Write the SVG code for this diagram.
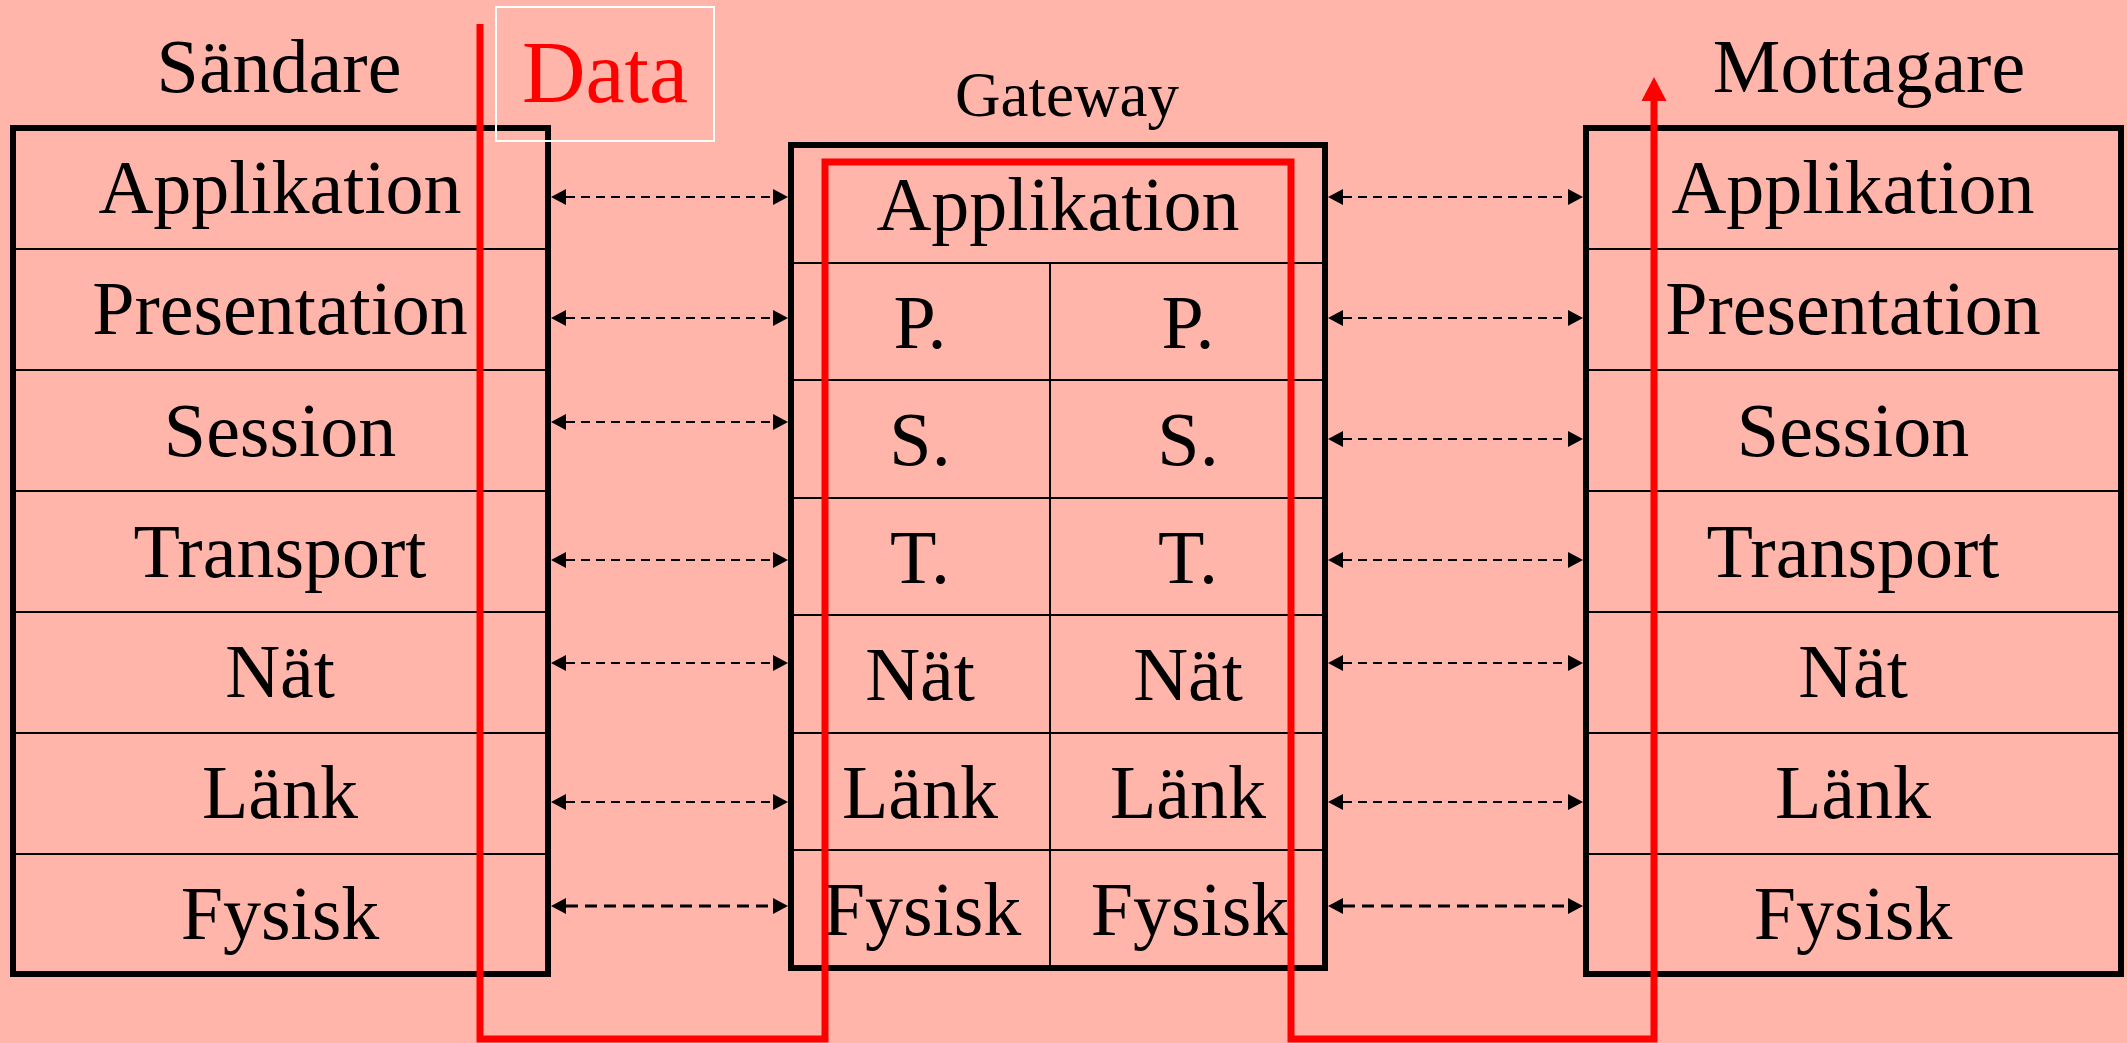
<svg xmlns="http://www.w3.org/2000/svg" width="2127" height="1043" viewBox="0 0 2127 1043">
<style>
.bg{fill:#FFB5AA}
.t{font-family:"Liberation Serif","Times New Roman",serif;font-size:76px;fill:#000;text-anchor:middle}
.title{font-family:"Liberation Serif","Times New Roman",serif;font-size:76px;fill:#000;text-anchor:middle}
.gw{font-family:"Liberation Serif","Times New Roman",serif;font-size:63px;fill:#000;text-anchor:middle}
.data{font-family:"Liberation Serif","Times New Roman",serif;font-size:88px;fill:#FF0000;text-anchor:middle}
.box{fill:none;stroke:#000;stroke-width:6}
.div{stroke:#000;stroke-width:2;fill:none}
.arr{stroke:#000;stroke-width:2;stroke-dasharray:9 6;fill:none;marker-start:url(#ah);marker-end:url(#ah)}
.arr3{stroke:#000;stroke-width:3;stroke-dasharray:12 7;fill:none;marker-start:url(#ah);marker-end:url(#ah)}
.red{stroke:#FF0000;stroke-width:7;fill:none}
</style>
<defs>
<marker id="ah" markerUnits="userSpaceOnUse" markerWidth="16" markerHeight="17" refX="0" refY="8" orient="auto-start-reverse" viewBox="0 0 16 17">
<path d="M0,0 L15,8 L0,16 z" fill="#000"/>
</marker>
<marker id="rah" markerUnits="userSpaceOnUse" markerWidth="26" markerHeight="26" refX="0" refY="12.5" orient="auto" viewBox="0 0 26 26">
<path d="M0,0 L24,12.5 L0,25 z" fill="#FF0000"/>
</marker>
</defs>
<rect class="bg" x="0" y="0" width="2127" height="1043"/>

<g id="sender">
<text class="title" x="279" y="92">Sändare</text>
<rect class="box" x="13" y="128" width="535" height="846"/>
<path class="div" d="M13,249H548M13,370H548M13,491H548M13,612H548M13,733H548M13,854H548"/>
<text class="t" x="280" y="213">Applikation</text>
<text class="t" x="280" y="334">Presentation</text>
<text class="t" x="280" y="456">Session</text>
<text class="t" x="280" y="577">Transport</text>
<text class="t" x="280" y="697">Nät</text>
<text class="t" x="280" y="818">Länk</text>
<text class="t" x="280" y="939">Fysisk</text>
</g>

<g id="gateway">
<text class="gw" x="1067" y="116">Gateway</text>
<rect class="box" x="791" y="145" width="534" height="823"/>
<path class="div" d="M791,263H1325M791,380H1325M791,498H1325M791,615H1325M791,733H1325M791,850H1325M1050,263V968"/>
<text class="t" x="1058" y="230">Applikation</text>
<text class="t" x="920" y="348">P.</text>
<text class="t" x="1188" y="348">P.</text>
<text class="t" x="920" y="465">S.</text>
<text class="t" x="1188" y="465">S.</text>
<text class="t" x="920" y="583">T.</text>
<text class="t" x="1188" y="583">T.</text>
<text class="t" x="920" y="700">Nät</text>
<text class="t" x="1188" y="700">Nät</text>
<text class="t" x="920" y="818">Länk</text>
<text class="t" x="1188" y="818">Länk</text>
<text class="t" x="922" y="935">Fysisk</text>
<text class="t" x="1190" y="935">Fysisk</text>
</g>

<g id="receiver">
<text class="title" x="1869" y="92">Mottagare</text>
<rect class="box" x="1586" y="128" width="535" height="846"/>
<path class="div" d="M1586,249H2121M1586,370H2121M1586,491H2121M1586,612H2121M1586,733H2121M1586,854H2121"/>
<text class="t" x="1853" y="213">Applikation</text>
<text class="t" x="1853" y="334">Presentation</text>
<text class="t" x="1853" y="456">Session</text>
<text class="t" x="1853" y="577">Transport</text>
<text class="t" x="1853" y="697">Nät</text>
<text class="t" x="1853" y="818">Länk</text>
<text class="t" x="1853" y="939">Fysisk</text>
</g>

<g id="connectors">
<path class="arr" d="M566,197H773"/>
<path class="arr" d="M566,318H773"/>
<path class="arr" d="M566,422H773"/>
<path class="arr" d="M566,560H773"/>
<path class="arr" d="M566,663H773"/>
<path class="arr" d="M566,802H773"/>
<path class="arr3" d="M566,906H773"/>
<path class="arr" d="M1343,197H1568"/>
<path class="arr" d="M1343,318H1568"/>
<path class="arr" d="M1343,439H1568"/>
<path class="arr" d="M1343,560H1568"/>
<path class="arr" d="M1343,663H1568"/>
<path class="arr" d="M1343,802H1568"/>
<path class="arr3" d="M1343,906H1568"/>
<path id="dataflow" class="red" d="M480,24V1039H825V162H1291V1039H1654V101" marker-end="url(#rah)"/>
</g>

<g id="data-label">
<rect x="496" y="7" width="218" height="134" fill="none" stroke="#FFFFFF" stroke-width="2"/>
<text class="data" x="605" y="102">Data</text>
</g>
</svg>
